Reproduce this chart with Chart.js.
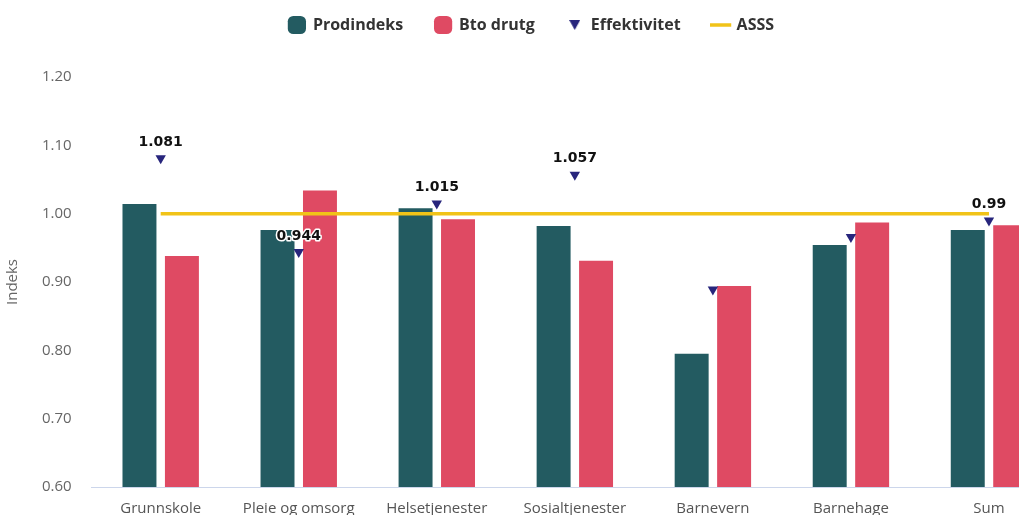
<!DOCTYPE html>
<html>
<head>
<meta charset="utf-8">
<script src="https://cdn.jsdelivr.net/npm/chart.js@4.4.1/dist/chart.umd.min.js"></script>
<style>
html,body{margin:0;padding:0;background:#fff;overflow:hidden;}
#wrap{width:1064px;height:531px;}
</style>
</head>
<body>
<div id="wrap"><canvas id="c" width="1064" height="531"></canvas></div>
<script>
const categories = ["Grunnskole","Pleie og omsorg","Helsetjenester","Sosialtjenester","Barnevern","Barnehage","Sum"];
const prodindeks = [1.014, 0.976, 1.008, 0.982, 0.795, 0.954, 0.976];
const btoDrutg = [0.938, 1.034, 0.992, 0.931, 0.894, 0.987, 0.983];
const effektivitet = [1.081, 0.944, 1.015, 1.057, 0.889, 0.966, 0.99];
const effLabels = ["1.081", "0.944", "1.015", "1.057", "", "", "0.99"];
const asss = [1, 1, 1, 1, 1, 1, 1];
const yTicks = [0.6, 0.7, 0.8, 0.9, 1.0, 1.1, 1.2];

const FONT = "'Open Sans', sans-serif";
const TEAL = '#235b61', RED = '#df4a63', NAVY = '#27257c', YELLOW = '#f1c318';

// small downward triangle used as legend symbol
const triImg = document.createElement('canvas');
triImg.width = 11; triImg.height = 10;
(function () {
  const g = triImg.getContext('2d');
  g.fillStyle = NAVY;
  g.beginPath(); g.moveTo(0, 0); g.lineTo(11, 0); g.lineTo(5.5, 10); g.closePath(); g.fill();
})();

const labelPlugin = {
  id: 'effLabels',
  afterDatasetsDraw(chart) {
    const meta = chart.getDatasetMeta(2);
    const ctx = chart.ctx;
    ctx.save();
    ctx.font = "bold 14px 'DejaVu Sans', sans-serif";
    ctx.textAlign = 'center';
    ctx.textBaseline = 'middle';
    ctx.lineJoin = 'round';
    meta.data.forEach((pt, i) => {
      const t = effLabels[i];
      if (!t) return;
      const x = pt.x, y = pt.y - 16;
      ctx.lineWidth = 3;
      ctx.strokeStyle = '#ffffff';
      ctx.strokeText(t, x, y);
      ctx.fillStyle = '#111111';
      ctx.fillText(t, x, y);
    });
    ctx.restore();
  }
};

const legendMargin = {
  id: 'legendMargin',
  beforeInit(chart) {
    const origFit = chart.legend.fit;
    chart.legend.fit = function () {
      origFit.bind(chart.legend)();
      this.height += 34;
    };
  }
};

new Chart(document.getElementById('c'), {
  data: {
    labels: categories,
    datasets: [
      { type: 'bar', label: 'Prodindeks', data: prodindeks, backgroundColor: TEAL, order: 3,
        categoryPercentage: 0.615, barPercentage: 0.8 },
      { type: 'bar', label: 'Bto drutg', data: btoDrutg, backgroundColor: RED, order: 3,
        categoryPercentage: 0.615, barPercentage: 0.8 },
      { type: 'line', label: 'Effektivitet', data: effektivitet, showLine: false,
        pointStyle: 'triangle', rotation: 180, pointRadius: 6, pointHoverRadius: 6,
        backgroundColor: NAVY, borderColor: NAVY, borderWidth: 0, order: 1 },
      { type: 'line', label: 'ASSS', data: asss, borderColor: YELLOW, backgroundColor: YELLOW,
        borderWidth: 3.5, pointRadius: 0, order: 2 }
    ]
  },
  options: {
    responsive: false,
    animation: false,
    devicePixelRatio: 1,
    layout: { padding: { top: -15, right: 5, left: 4, bottom: 0 } },
    plugins: {
      tooltip: { enabled: false },
      legend: {
        position: 'top',
        labels: {
          usePointStyle: true,
          boxHeight: 15,
          padding: 32,
          color: '#333333',
          font: { family: FONT, size: 16, weight: 'bold' },
          generateLabels(chart) {
            const defs = [
              { text: 'Prodindeks', pointStyle: 'rectRounded', fillStyle: TEAL, strokeStyle: TEAL, lineWidth: 0, rotation: 0 },
              { text: 'Bto drutg', pointStyle: 'rectRounded', fillStyle: RED, strokeStyle: RED, lineWidth: 0, rotation: 0 },
              { text: 'Effektivitet', pointStyle: triImg, fillStyle: NAVY, strokeStyle: NAVY, lineWidth: 0, rotation: 0 },
              { text: 'ASSS', pointStyle: 'line', fillStyle: YELLOW, strokeStyle: YELLOW, lineWidth: 3.5, rotation: 0 }
            ];
            return defs.map((d, i) => Object.assign({ datasetIndex: i, hidden: false, fontColor: '#333333' }, d));
          }
        }
      }
    },
    scales: {
      x: {
        grid: { display: false, drawTicks: false },
        border: { display: true, color: '#ccd6eb', width: 1 },
        ticks: { color: '#555', font: { family: FONT, size: 15 }, padding: 13, maxRotation: 0 }
      },
      y: {
        min: 0.6, max: 1.2,
        afterBuildTicks(scale) { scale.ticks = yTicks.map(v => ({ value: v })); },
        grid: { display: false, drawTicks: false },
        border: { display: false },
        title: { display: true, text: 'Indeks', color: '#666', font: { family: FONT, size: 15 }, padding: 0 },
        ticks: { color: '#666', font: { family: FONT, size: 15 }, padding: 20,
          callback: v => Number(v).toFixed(2) }
      }
    }
  },
  plugins: [labelPlugin, legendMargin]
});
</script>
</body>
</html>
